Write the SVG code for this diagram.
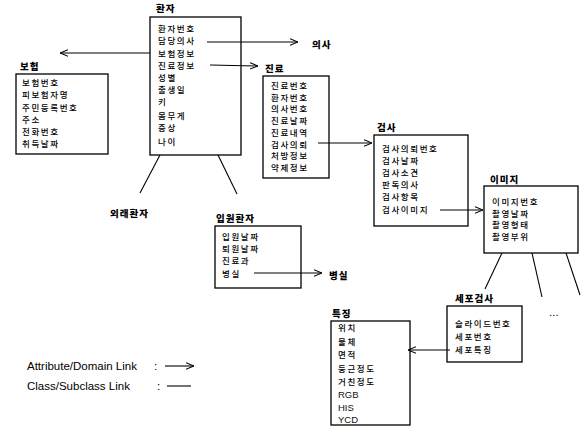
<svg xmlns="http://www.w3.org/2000/svg" width="582" height="428" viewBox="0 0 582 428">
<defs>
<marker id="arr" viewBox="0 0 10 10" refX="10" refY="5" markerWidth="8" markerHeight="8" orient="auto" markerUnits="userSpaceOnUse">
<path d="M0,1 L10,5 L0,9" fill="none" stroke="#000" stroke-width="1.3"/>
</marker>
<style>
.box{fill:#fff;stroke:#000;stroke-width:1.3}
.t{font-family:"Noto Sans CJK KR","Noto Sans",sans-serif;font-size:8.5px;letter-spacing:1.6px;font-weight:500;fill:#000}
.h{font-family:"Noto Sans CJK KR","Noto Sans",sans-serif;font-size:9.5px;letter-spacing:1px;font-weight:900;fill:#000}
.l{stroke:#000;stroke-width:1.1;fill:none}
.a{stroke:#000;stroke-width:1.1;fill:none;marker-end:url(#arr)}
.e{font-family:"Liberation Sans",Arial,sans-serif;font-size:11.5px;fill:#000}
.r{font-family:"Liberation Sans",Arial,sans-serif;font-size:9.5px;fill:#111}
</style>
</defs>
<rect width="582" height="428" fill="#fff"/>

<g id="patient">
<text class="h" x="156" y="12">환자</text>
<rect class="box" x="150" y="17" width="91" height="138"/>
<text class="t" x="158" y="32">환자번호</text>
<text class="t" x="158" y="44">담당의사</text>
<text class="t" x="158" y="57">보험정보</text>
<text class="t" x="158" y="69">진료정보</text>
<text class="t" x="158" y="81">성별</text>
<text class="t" x="158" y="93">출생일</text>
<text class="t" x="158" y="105">키</text>
<text class="t" x="158" y="119">몸무게</text>
<text class="t" x="158" y="131">증상</text>
<text class="t" x="158" y="145">나이</text>
</g>

<g id="insurance">
<text class="h" x="20" y="70">보험</text>
<rect class="box" x="16" y="74" width="92" height="80"/>
<text class="t" x="22" y="86">보험번호</text>
<text class="t" x="22" y="98">피보험자명</text>
<text class="t" x="22" y="111">주민등록번호</text>
<text class="t" x="22" y="123">주소</text>
<text class="t" x="22" y="135">전화번호</text>
<text class="t" x="22" y="147">취득날짜</text>
</g>

<g id="doctor">
<text class="h" x="312" y="48">의사</text>
</g>

<g id="treatment">
<text class="h" x="265" y="72">진료</text>
<rect class="box" x="263" y="76" width="66" height="102"/>
<text class="t" x="271" y="89">진료번호</text>
<text class="t" x="271" y="101">환자번호</text>
<text class="t" x="271" y="112">의사번호</text>
<text class="t" x="271" y="124">진료날짜</text>
<text class="t" x="271" y="136">진료내역</text>
<text class="t" x="271" y="148">검사의뢰</text>
<text class="t" x="271" y="159">처방정보</text>
<text class="t" x="271" y="171">약제정보</text>
</g>

<g id="exam">
<text class="h" x="377" y="131">검사</text>
<rect class="box" x="374" y="135" width="94" height="91"/>
<text class="t" x="382" y="152">검사의뢰번호</text>
<text class="t" x="382" y="164">검사날짜</text>
<text class="t" x="382" y="176">검사소견</text>
<text class="t" x="382" y="188">판독의사</text>
<text class="t" x="382" y="200">검사항목</text>
<text class="t" x="382" y="213">검사이미지</text>
</g>

<g id="image">
<text class="h" x="490" y="183">이미지</text>
<rect class="box" x="484" y="186" width="94" height="67"/>
<text class="t" x="492" y="205">이미지번호</text>
<text class="t" x="492" y="217">촬영날짜</text>
<text class="t" x="492" y="228">촬영형태</text>
<text class="t" x="492" y="240">촬영부위</text>
</g>

<g id="outpatient">
<text class="h" x="110" y="217">외래환자</text>
</g>

<g id="inpatient">
<text class="h" x="216" y="222">입원환자</text>
<rect class="box" x="215" y="226" width="86" height="62"/>
<text class="t" x="222" y="240">입원날짜</text>
<text class="t" x="222" y="252">퇴원날짜</text>
<text class="t" x="222" y="264">진료과</text>
<text class="t" x="222" y="277">병실</text>
</g>

<g id="room">
<text class="h" x="329" y="279">병실</text>
</g>

<g id="feature">
<text class="h" x="332" y="317">특징</text>
<rect class="box" x="331" y="321" width="79" height="104"/>
<text class="t" x="338" y="331">위치</text>
<text class="t" x="338" y="345">물체</text>
<text class="t" x="338" y="358">면적</text>
<text class="t" x="338" y="372">둥근정도</text>
<text class="t" x="338" y="385">거친정도</text>
<text class="r" x="338" y="398">RGB</text>
<text class="r" x="338" y="411">HIS</text>
<text class="r" x="338" y="423">YCD</text>
</g>

<g id="cytology">
<text class="h" x="455" y="302">세포검사</text>
<rect class="box" x="447" y="306" width="75" height="56"/>
<text class="t" x="455" y="327">슬라이드번호</text>
<text class="t" x="455" y="340">세포번호</text>
<text class="t" x="455" y="353">세포특징</text>
</g>

<g id="more">
<text class="e" x="549" y="316">...</text>
</g>

<g id="connectors">
<line class="a" x1="207" y1="42" x2="298" y2="42"/>
<line class="a" x1="150" y1="53" x2="60" y2="53"/>
<line class="a" x1="210" y1="65" x2="258" y2="66"/>
<line class="a" x1="318" y1="143" x2="372" y2="143"/>
<line class="a" x1="440" y1="210" x2="483" y2="210"/>
<line class="a" x1="254" y1="273" x2="322" y2="273"/>
<line class="a" x1="450" y1="350" x2="408" y2="350"/>
<line class="l" x1="160" y1="155" x2="140" y2="193"/>
<line class="l" x1="218" y1="155" x2="237" y2="194"/>
<line class="l" x1="502" y1="253" x2="485" y2="289"/>
<line class="l" x1="532" y1="253" x2="542" y2="297"/>
<line class="l" x1="566" y1="253" x2="580" y2="295"/>
</g>

<g id="legend">
<text class="e" x="27" y="370">Attribute/Domain Link</text>
<text class="e" x="154" y="370">:</text>
<line class="a" x1="165" y1="366" x2="194" y2="366"/>
<text class="e" x="27" y="390">Class/Subclass Link</text>
<text class="e" x="157" y="390">:</text>
<line class="l" x1="167" y1="386" x2="191" y2="386"/>
</g>
</svg>
